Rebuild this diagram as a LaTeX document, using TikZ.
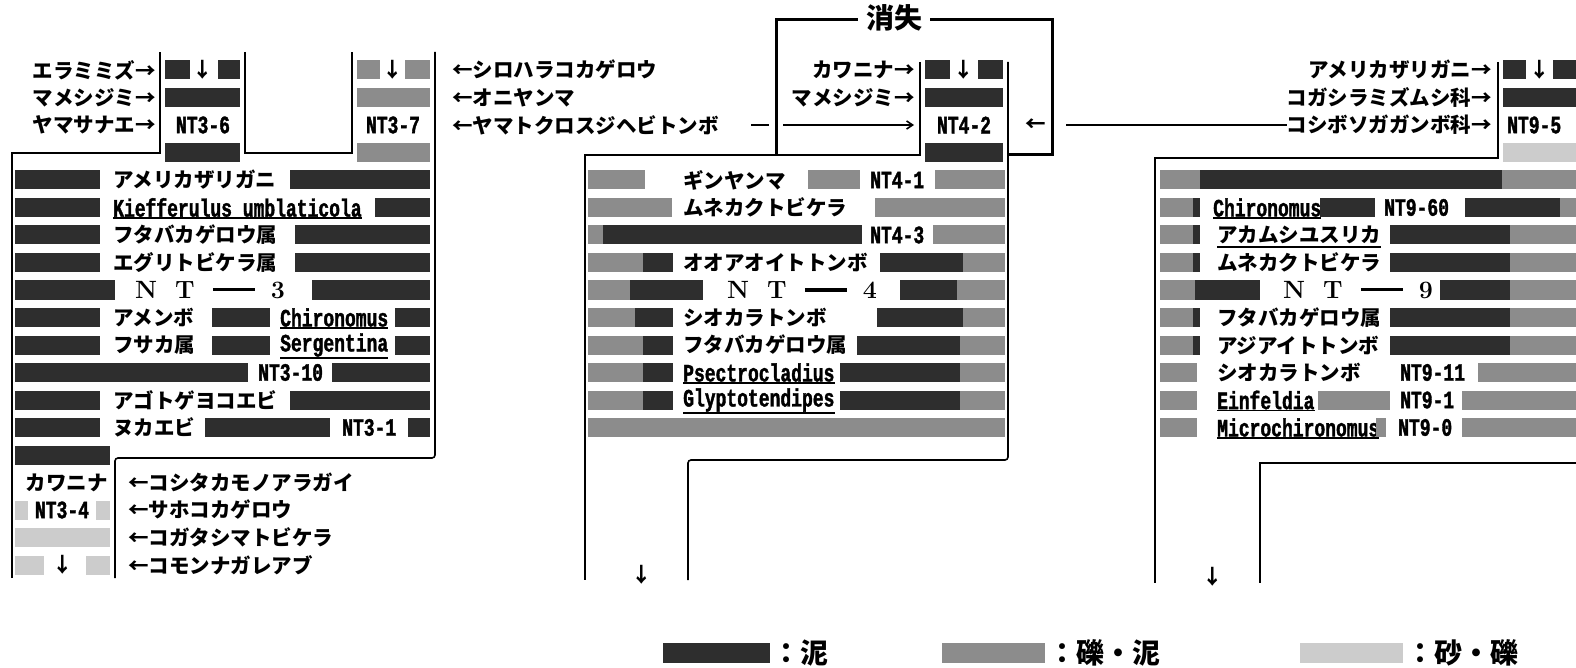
\documentclass[tikz,border=0pt]{standalone}
\usepackage{fontspec}
\newfontfamily\jp{Noto Sans CJK JP}
\newfontfamily\lat[FakeStretch=0.72,FakeBold=1.5]{Liberation Mono}
\usetikzlibrary{arrows.meta}
\newcommand\Y[1]{70+27.5*#1}
\newcommand\fb[4]{\fill[#4] (#1,{70+27.5*#3-9.5}) rectangle (#2,{70+27.5*#3+9.5});}
\newcommand\NTlabel[1]{N\hspace{18pt}T\hspace{18pt}\rule[7pt]{42pt}{3.4pt}\hspace{16pt}#1}
\tikzset{
  ln/.style={line width=1.6pt},
  heavy/.style={line width=3pt},
  mud/.style={fill=black!82},
  gm/.style={fill=black!45},
  sg/.style={fill=black!20},
  jt/.style={font=\jp\bfseries\fontsize{20.5}{22}\selectfont, inner sep=0pt},
  lt/.style={font=\lat\bfseries\fontsize{25}{26}\selectfont, inner sep=0pt},
  bt/.style={font=\bfseries\fontsize{25}{26}\selectfont, inner sep=0pt},
  lg/.style={font=\jp\bfseries\fontsize{28}{30}\selectfont, inner sep=0pt},
  ul/.style={line width=1.6pt},
}
\begin{document}
\begin{tikzpicture}[x=1pt,y=-1pt]
\useasboundingbox (0,0) rectangle (1576,668);
% ================= NT3 =================
\draw[ln] (12,578) -- (12,153) -- (160,153) -- (160,52);
\draw[ln] (245,52) -- (245,153) -- (352,153) -- (352,52);
\draw[ln,rounded corners=3pt] (435,52) -- (435,458) -- (115,458) -- (115,578);
% column NT3-6
\fb{165}{190}{0}{mud} \fb{218}{240}{0}{mud}
\node[jt] (a36) at (203,{\Y{0}}) {↓};
\fb{165}{240}{1}{mud}
\node[lt] (n36) at (203,{\Y{2}}) {NT3-6};
\fb{165}{240}{3}{mud}
% column NT3-7
\fb{357}{380}{0}{gm} \fb{405}{430}{0}{gm}
\node[jt] (a37) at (393,{\Y{0}}) {↓};
\fb{357}{430}{1}{gm}
\node[lt] (n37) at (393,{\Y{2}}) {NT3-7};
\fb{357}{430}{3}{gm}
% labels
\node[jt,anchor=east] (l30) at (156,{\Y{0}}) {エラミミズ→};
\node[jt,anchor=east] (l31) at (156,{\Y{1}}) {マメシジミ→};
\node[jt,anchor=east] (l32) at (156,{\Y{2}}) {ヤマサナエ→};
\node[jt,anchor=west] (r30) at (452,{\Y{0}}) {←シロハラコカゲロウ};
\node[jt,anchor=west] (r31) at (452,{\Y{1}}) {←オニヤンマ};
\node[jt,anchor=west] (r32) at (452,{\Y{2}}) {←ヤマトクロスジヘビトンボ};
% rows
\fb{15}{100}{4}{mud} \node[jt,anchor=west] (t34) at (113,{\Y{4}}) {アメリカザリガニ}; \fb{290}{430}{4}{mud}
\fb{15}{100}{5}{mud} \node[lt,anchor=west] (t35) at (113,{\Y{5}}) {Kiefferulus umblaticola}; \fb{375}{430}{5}{mud}
\draw[ul] ([yshift=-1pt]t35.south west) -- ([yshift=-1pt]t35.south east);
\fb{15}{100}{6}{mud} \node[jt,anchor=west] (t36) at (113,{\Y{6}}) {フタバカゲロウ属}; \fb{295}{430}{6}{mud}
\fb{15}{100}{7}{mud} \node[jt,anchor=west] (t37) at (113,{\Y{7}}) {エグリトビケラ属}; \fb{295}{430}{7}{mud}
\fb{15}{115}{8}{mud} \node[bt,anchor=west] (t38) at (135,{\Y{8}}) {\NTlabel{3}}; \fb{312}{430}{8}{mud}
\fb{15}{100}{9}{mud} \node[jt,anchor=west] (t39) at (113,{\Y{9}}) {アメンボ}; \fb{212}{270}{9}{mud}
\node[lt,anchor=west] (t39b) at (280,{\Y{9}}) {Chironomus}; \fb{395}{430}{9}{mud}
\draw[ul] ([yshift=-1pt]t39b.south west) -- ([yshift=-1pt]t39b.south east);
\fb{15}{100}{10}{mud} \node[jt,anchor=west] (t310) at (113,{\Y{10}}) {フサカ属}; \fb{212}{270}{10}{mud}
\node[lt,anchor=west] (t310b) at (280,{\Y{10}}) {Sergentina}; \fb{395}{430}{10}{mud}
\draw[ul] ([yshift=-1pt]t310b.south west) -- ([yshift=-1pt]t310b.south east);
\fb{15}{248}{11}{mud} \node[lt,anchor=west] (t311) at (258,{\Y{11}}) {NT3-10}; \fb{332}{430}{11}{mud}
\fb{15}{100}{12}{mud} \node[jt,anchor=west] (t312) at (113,{\Y{12}}) {アゴトゲヨコエビ}; \fb{290}{430}{12}{mud}
\fb{15}{100}{13}{mud} \node[jt,anchor=west] (t313) at (113,{\Y{13}}) {ヌカエビ}; \fb{205}{330}{13}{mud}
\node[lt,anchor=west] (t313b) at (342,{\Y{13}}) {NT3-1}; \fb{408}{430}{13}{mud}
\fb{15}{110}{14}{mud}
% column NT3-4
\node[jt,anchor=east] (t315) at (108,{\Y{15}}) {カワニナ};
\fb{15}{28}{16}{sg} \node[lt] (n34) at (62,{\Y{16}}) {NT3-4}; \fb{96}{110}{16}{sg}
\fb{15}{110}{17}{sg}
\fb{15}{44}{18}{sg} \node[jt] (b34) at (63,{\Y{18}}) {↓}; \fb{86}{110}{18}{sg}
\node[jt,anchor=west] (r315) at (128,{\Y{15}}) {←コシタカモノアラガイ};
\node[jt,anchor=west] (r316) at (128,{\Y{16}}) {←サホコカゲロウ};
\node[jt,anchor=west] (r317) at (128,{\Y{17}}) {←コガタシマトビケラ};
\node[jt,anchor=west] (r318) at (128,{\Y{18}}) {←コモンナガレアブ};
% ================= NT4 =================
\draw[ln] (920,62) -- (920,155) -- (585,155) -- (585,580);
\draw[ln,rounded corners=3pt] (1008,62) -- (1008,460) -- (688,460) -- (688,580);
\draw[heavy] (776,155) -- (776,20) -- (1052,20) -- (1052,155) -- (1008,155);
\node[lg,fill=white,inner xsep=8pt,inner ysep=2pt] (shs) at (894,18) {消失};
% column NT4-2
\fb{925}{950}{0}{mud} \node[jt] (a42) at (964,{\Y{0}}) {↓}; \fb{978}{1003}{0}{mud}
\fb{925}{1003}{1}{mud}
\node[lt] (n42) at (964,{\Y{2}}) {NT4-2};
\fb{925}{1003}{3}{mud}
\node[jt,anchor=east] (l40) at (915,{\Y{0}}) {カワニナ→};
\node[jt,anchor=east] (l41) at (915,{\Y{1}}) {マメシジミ→};
\coordinate (d1) at (751,{\Y{2}}); \coordinate (d2) at (769,{\Y{2}});
\draw[ln] (d1) -- (d2);
\coordinate (d3) at (783,{\Y{2}}); \coordinate (d4) at (914,{\Y{2}});
\draw[ln,-{Straight Barb[length=6pt,width=8pt]}] (d3) -- (d4);
\node[jt] (la) at (1036,{\Y{2}}) {←};
% rows NT4
\fb{588}{645}{4}{gm} \node[jt,anchor=west] (t44) at (683,{\Y{4}}) {ギンヤンマ}; \fb{808}{860}{4}{gm}
\node[lt,anchor=west] (t44b) at (870,{\Y{4}}) {NT4-1}; \fb{935}{1005}{4}{gm}
\fb{588}{672}{5}{gm} \node[jt,anchor=west] (t45) at (683,{\Y{5}}) {ムネカクトビケラ}; \fb{875}{1005}{5}{gm}
\fb{588}{603}{6}{gm} \fb{603}{862}{6}{mud} \node[lt,anchor=west] (t46) at (870,{\Y{6}}) {NT4-3}; \fb{933}{1005}{6}{gm}
\fb{588}{643}{7}{gm} \fb{643}{673}{7}{mud} \node[jt,anchor=west] (t47) at (683,{\Y{7}}) {オオアオイトトンボ}; \fb{880}{963}{7}{mud} \fb{963}{1005}{7}{gm}
\fb{588}{630}{8}{gm} \fb{630}{703}{8}{mud} \node[bt,anchor=west] (t48) at (727,{\Y{8}}) {\NTlabel{4}}; \fb{900}{957}{8}{mud} \fb{957}{1005}{8}{gm}
\fb{588}{635}{9}{gm} \fb{635}{673}{9}{mud} \node[jt,anchor=west] (t49) at (683,{\Y{9}}) {シオカラトンボ}; \fb{877}{963}{9}{mud} \fb{963}{1005}{9}{gm}
\fb{588}{643}{10}{gm} \fb{643}{673}{10}{mud} \node[jt,anchor=west] (t410) at (683,{\Y{10}}) {フタバカゲロウ属}; \fb{857}{960}{10}{mud} \fb{960}{1005}{10}{gm}
\fb{588}{643}{11}{gm} \fb{643}{673}{11}{mud} \node[lt,anchor=west] (t411) at (683,{\Y{11}}) {Psectrocladius}; \fb{840}{960}{11}{mud} \fb{960}{1005}{11}{gm}
\draw[ul] ([yshift=-1pt]t411.south west) -- ([yshift=-1pt]t411.south east);
\fb{588}{643}{12}{gm} \fb{643}{673}{12}{mud} \node[lt,anchor=west] (t412) at (683,{\Y{12}}) {Glyptotendipes}; \fb{840}{960}{12}{mud} \fb{960}{1005}{12}{gm}
\draw[ul] ([yshift=-1pt]t412.south west) -- ([yshift=-1pt]t412.south east);
\fb{588}{1005}{13}{gm}
\node[jt] (b4) at (642,575) {↓};
% ================= NT9 =================
\draw[ln] (1498,62) -- (1498,158) -- (1155,158) -- (1155,583);
\draw[ln] (1576,463) -- (1260,463) -- (1260,583);
\fb{1503}{1526}{0}{mud} \node[jt] (a95) at (1540,{\Y{0}}) {↓}; \fb{1553}{1576}{0}{mud}
\fb{1503}{1576}{1}{mud}
\node[lt,anchor=west] (n95) at (1507,{\Y{2}}) {NT9-5};
\fb{1503}{1576}{3}{sg}
\node[jt,anchor=east] (l90) at (1492,{\Y{0}}) {アメリカザリガニ→};
\node[jt,anchor=east] (l91) at (1492,{\Y{1}}) {コガシラミズムシ科→};
\node[jt,anchor=east] (l92) at (1492,{\Y{2}}) {コシボソガガンボ科→};
\coordinate (d5) at (1066,{\Y{2}});
\draw[ln] (d5) -- (l92.west);
% rows NT9
\fb{1160}{1200}{4}{gm} \fb{1200}{1502}{4}{mud} \fb{1502}{1576}{4}{gm}
\fb{1160}{1193}{5}{gm} \fb{1193}{1200}{5}{mud} \node[lt,anchor=west] (t95) at (1213,{\Y{5}}) {Chironomus}; \fb{1320}{1375}{5}{mud}
\node[lt,anchor=west] (t95b) at (1384,{\Y{5}}) {NT9-60}; \fb{1465}{1560}{5}{mud} \fb{1560}{1576}{5}{gm}
\draw[ul] ([yshift=-1pt]t95.south west) -- ([yshift=-1pt]t95.south east);
\fb{1160}{1193}{6}{gm} \fb{1193}{1200}{6}{mud} \node[jt,anchor=west] (t96) at (1217,{\Y{6}}) {アカムシユスリカ}; \fb{1390}{1510}{6}{mud} \fb{1510}{1576}{6}{gm}
\draw[ul] ([yshift=-3pt]t96.south west) -- ([yshift=-3pt]t96.south east);
\fb{1160}{1193}{7}{gm} \fb{1193}{1200}{7}{mud} \node[jt,anchor=west] (t97) at (1217,{\Y{7}}) {ムネカクトビケラ}; \fb{1390}{1510}{7}{mud} \fb{1510}{1576}{7}{gm}
\fb{1160}{1195}{8}{gm} \fb{1195}{1260}{8}{mud} \node[bt,anchor=west] (t98) at (1283,{\Y{8}}) {\NTlabel{9}}; \fb{1440}{1510}{8}{mud} \fb{1510}{1576}{8}{gm}
\fb{1160}{1193}{9}{gm} \fb{1193}{1200}{9}{mud} \node[jt,anchor=west] (t99) at (1217,{\Y{9}}) {フタバカゲロウ属}; \fb{1390}{1510}{9}{mud} \fb{1510}{1576}{9}{gm}
\fb{1160}{1193}{10}{gm} \fb{1193}{1200}{10}{mud} \node[jt,anchor=west] (t910) at (1217,{\Y{10}}) {アジアイトトンボ}; \fb{1390}{1510}{10}{mud} \fb{1510}{1576}{10}{gm}
\fb{1160}{1197}{11}{gm} \node[jt,anchor=west] (t911) at (1217,{\Y{11}}) {シオカラトンボ};
\node[lt,anchor=west] (t911b) at (1400,{\Y{11}}) {NT9-11}; \fb{1478}{1576}{11}{gm}
\fb{1160}{1197}{12}{gm} \node[lt,anchor=west] (t912) at (1217,{\Y{12}}) {Einfeldia}; \fb{1318}{1390}{12}{gm}
\node[lt,anchor=west] (t912b) at (1400,{\Y{12}}) {NT9-1}; \fb{1462}{1576}{12}{gm}
\draw[ul] ([yshift=-1pt]t912.south west) -- ([yshift=-1pt]t912.south east);
\fb{1160}{1197}{13}{gm} \node[lt,anchor=west] (t913) at (1217,{\Y{13}}) {Microchironomus}; \fb{1376}{1386}{13}{gm}
\node[lt,anchor=west] (t913b) at (1398,{\Y{13}}) {NT9-0}; \fb{1462}{1576}{13}{gm}
\draw[ul] ([yshift=-1pt]t913.south west) -- ([yshift=-1pt]t913.south east);
\node[jt] (b9) at (1213,577) {↓};
% ================= legend =================
\fill[mud] (663,643) rectangle (770,663);
\node[lg,anchor=west] (lg1) at (772,653) {：泥};
\fill[gm] (942,643) rectangle (1045,663);
\node[lg,anchor=west] (lg2) at (1048,653) {：礫・泥};
\fill[sg] (1300,643) rectangle (1403,663);
\node[lg,anchor=west] (lg3) at (1406,653) {：砂・礫};
\end{tikzpicture}
\end{document}
